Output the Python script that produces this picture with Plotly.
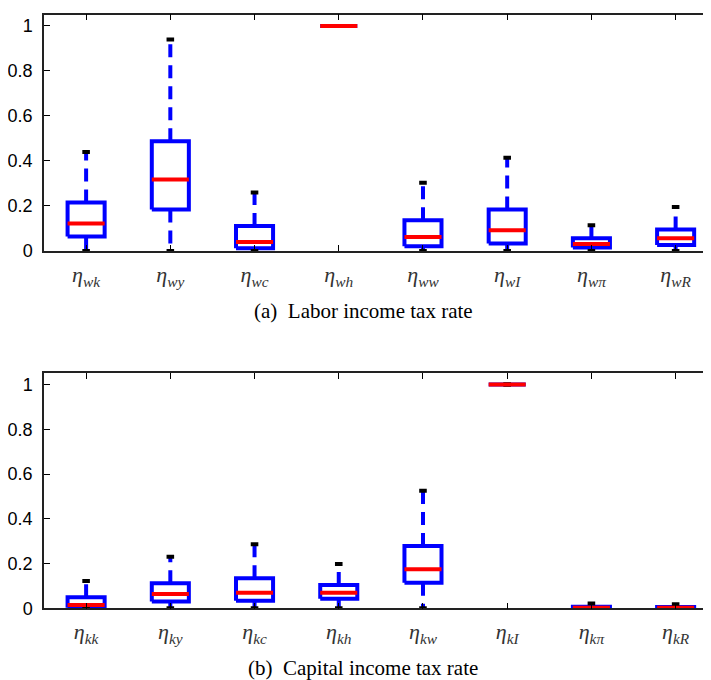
import plotly.graph_objects as go

# ---------------- data ----------------
labels_a = ["wk", "wy", "wc", "wh", "ww", "wI", "wπ", "wR"]
q1_a  = [0.064, 0.184, 0.012, 1.0, 0.021, 0.033, 0.016, 0.027]
med_a = [0.122, 0.318, 0.040, 1.0, 0.062, 0.092, 0.031, 0.057]
q3_a  = [0.215, 0.488, 0.111, 1.0, 0.137, 0.184, 0.057, 0.095]
lo_a  = [0.0, 0.0, 0.0, 1.0, 0.0, 0.0, 0.0, 0.0]
hi_a  = [0.440, 0.940, 0.260, 1.0, 0.303, 0.414, 0.114, 0.196]

labels_b = ["kk", "ky", "kc", "kh", "kw", "kI", "kπ", "kR"]
q1_b  = [0.003, 0.030, 0.034, 0.043, 0.114, 1.0, 0.0, 0.0]
med_b = [0.015, 0.064, 0.070, 0.070, 0.175, 1.0, 0.003, 0.003]
q3_b  = [0.049, 0.112, 0.134, 0.104, 0.278, 1.0, 0.007, 0.006]
lo_b  = [0.0, 0.0, 0.0, 0.0, 0.0, 1.0, 0.0, 0.0]
hi_b  = [0.122, 0.230, 0.286, 0.198, 0.525, 1.0, 0.022, 0.018]

positions = [1, 2, 3, 4, 5, 6, 7, 8]
y_ticks = [0, 0.2, 0.4, 0.6, 0.8, 1]
y_ticktext = ["0", "0.2", "0.4", "0.6", "0.8", "1"]
captions = ["(a)\u00a0 Labor income tax rate", "(b)\u00a0 Capital income tax rate"]

HALF = 0.22
CAP = 0.045
BLUE = "#0000FF"
RED = "#FF0000"

fig = go.Figure()


def add_panel(q1, med, q3, lo, hi, xa, ya):
    wx, wy, bx, by, mx, my, cx, cy = [], [], [], [], [], [], [], []
    for p, a, m, b, l, h in zip(positions, q1, med, q3, lo, hi):
        wx += [p, p, None, p, p, None]
        wy += [b, h, None, a, l, None]
        bx += [p - HALF, p + HALF, p + HALF, p - HALF, p - HALF, None]
        by += [a, a, b, b, a, None]
        mx += [p - HALF, p + HALF, None]
        my += [m, m, None]
        cx += [p - CAP, p + CAP, None, p - CAP, p + CAP, None]
        cy += [h, h, None, l, l, None]
    common = dict(mode="lines", xaxis=xa, yaxis=ya, showlegend=False,
                  hoverinfo="skip", connectgaps=False)
    fig.add_trace(go.Scatter(x=wx, y=wy, line=dict(color=BLUE, width=4, dash="13px,8px"), **common))
    fig.add_trace(go.Scatter(x=bx, y=by, line=dict(color=BLUE, width=4), **common))
    fig.add_trace(go.Scatter(x=cx, y=cy, line=dict(color="black", width=4), **common))
    fig.add_trace(go.Scatter(x=mx, y=my, line=dict(color=RED, width=4), **common))


add_panel(q1_a, med_a, q3_a, lo_a, hi_a, "x", "y")
add_panel(q1_b, med_b, q3_b, lo_b, hi_b, "x2", "y2")


def tick_labels(labels):
    return ["<i>η</i><sub><i>%s</i></sub>" % s for s in labels]


W, H = 703.0, 672.0
OFF = 8.0  # page body margin
L = 44 - OFF

xcommon = dict(range=[0.5, 8.42], tickvals=positions, ticks="inside", ticklen=6,
               tickcolor="black", tickwidth=1, showline=True, linecolor="#222",
               linewidth=1.5, mirror="ticks", showgrid=False, zeroline=False,
               automargin=False,
               tickfont=dict(family="Liberation Serif", size=22, color="#333"),
               ticklabelstandoff=3)
ycommon = dict(range=[0, 1.05], tickvals=y_ticks, ticktext=y_ticktext, ticks="inside",
               ticklen=6, tickcolor="black", tickwidth=1, showline=True,
               linecolor="#222", linewidth=1.5, mirror="ticks", showgrid=False,
               zeroline=False, automargin=False,
               tickfont=dict(family="Liberation Sans", size=18, color="black"),
               ticklabelstandoff=6)


def ydom(top, bottom):
    return [1 - (bottom - OFF) / H, 1 - (top - OFF) / H]


cap_x = (363 - OFF - L) / (W - L)

fig.update_layout(
    template="none",
    width=W, height=H,
    margin=dict(l=L, r=0, t=0, b=0),
    paper_bgcolor="white", plot_bgcolor="white",
    xaxis=dict(domain=[0, 1], anchor="y", ticktext=tick_labels(labels_a), **xcommon),
    yaxis=dict(domain=ydom(14.7, 251), anchor="x", **ycommon),
    xaxis2=dict(domain=[0, 1], anchor="y2", ticktext=tick_labels(labels_b), **xcommon),
    yaxis2=dict(domain=ydom(373.3, 608.3), anchor="x2", **ycommon),
    annotations=[
        dict(text=captions[0], xref="paper", yref="paper", x=cap_x, y=1 - (311 - OFF) / H,
             xanchor="center", yanchor="middle", showarrow=False,
             font=dict(family="Liberation Serif", size=21, color="black")),
        dict(text=captions[1], xref="paper", yref="paper", x=cap_x, y=1 - (668 - OFF) / H,
             xanchor="center", yanchor="middle", showarrow=False,
             font=dict(family="Liberation Serif", size=21, color="black")),
    ],
)

fig.write_html("out.html")
